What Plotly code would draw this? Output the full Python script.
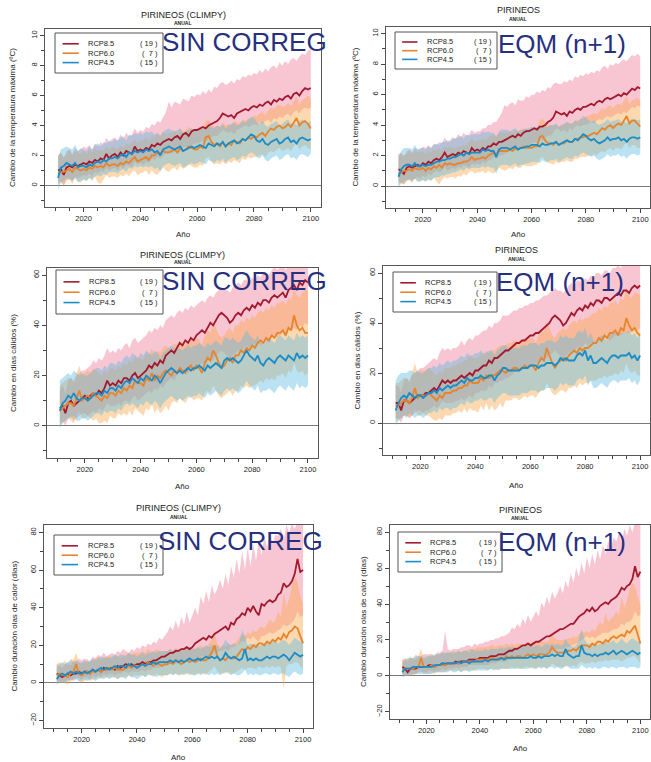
import plotly.graph_objects as go

YEARS = list(range(2011, 2101))

# ---------------- Temperatura máxima, SIN CORREG ----------------
T_SC_85 = [1.0, 1.1, 0.7, 1.2, 1.3, 1.2, 1.4, 1.3, 1.4, 1.5,
           1.4, 1.6, 1.5, 1.7, 1.6, 1.8, 1.7, 2.1, 1.8, 2.0,
           2.1, 1.9, 2.2, 2.0, 2.3, 2.2, 2.1, 2.6, 2.3, 2.4,
           2.3, 2.5, 2.4, 2.7, 2.6, 2.8, 2.7, 2.9, 3.0, 3.1,
           3.0, 3.2, 3.3, 3.1, 3.4, 3.5, 3.3, 3.6, 3.7, 3.7,
           3.8, 3.9, 3.8, 4.0, 4.1, 4.2, 4.3, 4.5, 4.8, 4.7,
           4.6, 4.7, 4.5, 4.8, 4.9, 5.0, 5.1, 5.0, 5.2, 5.3,
           5.2, 5.4, 5.3, 5.5, 5.6, 5.4, 5.7, 5.6, 5.8, 5.7,
           5.9, 6.0, 5.8, 6.1, 6.2, 6.0, 6.3, 6.5, 6.4, 6.5]
T_SC_85_HI = [2.0, 2.2, 1.8, 2.3, 2.4, 2.1, 2.5, 2.3, 2.4, 2.6,
              2.5, 2.7, 2.4, 2.8, 2.6, 2.9, 2.7, 3.2, 2.9, 3.1,
              3.2, 3.0, 3.4, 3.1, 3.5, 3.3, 3.4, 3.8, 3.5, 3.7,
              3.6, 3.9, 3.8, 4.1, 4.0, 4.3, 4.2, 4.6, 4.9, 5.6,
              5.2, 5.6, 5.5, 5.4, 5.8, 5.7, 5.6, 6.0, 5.9, 6.1,
              6.0, 6.3, 6.1, 6.4, 6.2, 6.6, 6.5, 6.8, 6.9, 6.7,
              6.8, 7.0, 6.8, 7.1, 7.0, 7.3, 7.2, 7.4, 7.3, 7.5,
              7.4, 7.7, 7.5, 7.8, 7.6, 7.9, 8.0, 7.8, 8.2, 8.0,
              8.3, 8.1, 8.4, 8.5, 8.3, 8.6, 8.8, 8.7, 9.0, 9.1]
T_SC_85_LO = [0.2, 0.3, 0.0, 0.4, 0.5, 0.3, 0.6, 0.5, 0.6, 0.7,
              0.6, 0.8, 0.6, 0.9, 0.8, 1.0, 0.9, 1.2, 1.0, 1.1,
              1.2, 1.0, 1.3, 1.1, 1.4, 1.3, 1.2, 1.6, 1.4, 1.5,
              1.4, 1.6, 1.5, 1.8, 1.7, 1.9, 1.8, 2.0, 2.1, 2.2,
              2.1, 2.3, 2.4, 2.2, 2.5, 2.6, 2.4, 2.7, 2.8, 2.8,
              2.9, 3.0, 2.9, 3.1, 3.2, 3.3, 3.3, 3.5, 3.7, 3.6,
              3.5, 3.6, 3.4, 3.7, 3.8, 3.9, 4.0, 3.9, 4.0, 4.1,
              4.0, 4.2, 4.1, 4.3, 4.4, 4.2, 4.5, 4.4, 4.6, 4.5,
              4.7, 4.8, 4.6, 4.9, 5.0, 4.8, 5.1, 5.2, 5.1, 5.2]
T_SC_60 = [0.8, 0.9, 0.9, 1.0, 1.1, 0.9, 1.2, 1.1, 1.0, 1.1,
           1.0, 1.2, 1.1, 1.3, 1.2, 1.3, 1.2, 1.5, 1.3, 1.4,
           1.4, 1.3, 1.5, 1.4, 1.6, 1.5, 1.7, 1.9, 1.6, 1.7,
           1.8, 1.9, 1.7, 2.0, 2.0, 2.2, 2.1, 2.3, 2.2, 2.2,
           2.3, 2.4, 2.2, 2.5, 2.3, 2.4, 2.6, 2.5, 2.4, 2.4,
           2.6, 2.5, 3.2, 3.3, 2.9, 2.7, 2.8, 2.6, 2.9, 2.6,
           2.8, 2.7, 3.0, 2.9, 2.8, 3.1, 3.0, 3.2, 3.1, 3.3,
           3.2, 3.4, 3.5, 3.3, 3.6, 3.8, 3.7, 3.9, 4.0, 3.8,
           3.9, 4.1, 3.9, 4.2, 4.5, 4.0, 4.2, 4.3, 4.1, 3.8]
T_SC_60_HI = [2.0, 2.2, 1.9, 2.1, 2.4, 2.0, 2.3, 2.2, 2.1, 2.3,
              2.1, 2.4, 2.2, 2.5, 2.3, 2.4, 2.3, 2.6, 2.4, 2.6,
              2.5, 2.4, 2.7, 2.5, 2.8, 2.7, 2.9, 3.1, 2.8, 3.0,
              3.0, 3.2, 2.9, 3.3, 3.2, 3.5, 3.3, 3.6, 3.4, 3.5,
              3.5, 3.7, 3.4, 3.8, 3.6, 3.7, 3.9, 3.8, 3.7, 3.8,
              3.9, 3.8, 4.3, 4.4, 4.1, 3.9, 4.0, 3.9, 4.2, 4.0,
              4.1, 4.0, 4.3, 4.2, 4.1, 4.4, 4.3, 4.5, 4.4, 4.7,
              4.6, 4.8, 4.9, 4.7, 5.0, 5.2, 5.1, 5.3, 5.4, 5.2,
              5.3, 5.5, 5.3, 5.6, 5.9, 5.4, 5.7, 5.8, 6.0, 5.8]
T_SC_60_LO = [0.1, 0.2, 0.0, 0.3, 0.4, 0.1, 0.5, 0.3, 0.2, 0.4,
              0.3, 0.5, 0.3, 0.6, 0.2, 0.1, 0.4, 0.7, 0.5, 0.6,
              0.6, 0.5, 0.7, 0.6, 0.8, 0.6, 0.9, 1.0, 0.7, 0.8,
              0.9, 1.0, 0.7, 1.0, 0.8, 0.7, 1.0, 1.2, 1.0, 0.9,
              1.1, 1.2, 1.0, 1.3, 1.1, 1.2, 1.4, 1.3, 1.2, 1.2,
              1.4, 1.3, 1.8, 1.9, 1.6, 1.4, 1.5, 1.4, 1.6, 1.4,
              1.6, 1.5, 1.7, 1.6, 1.5, 1.8, 1.7, 1.9, 1.8, 1.9,
              1.9, 2.0, 2.1, 1.9, 2.2, 2.3, 2.2, 2.4, 2.5, 2.3,
              2.4, 2.5, 2.3, 2.6, 2.8, 2.4, 2.6, 2.7, 2.5, 2.4]
T_SC_45 = [0.5, 1.2, 1.3, 1.5, 1.4, 1.3, 1.5, 1.2, 1.3, 1.3,
           1.2, 1.4, 1.3, 1.5, 1.6, 1.5, 1.7, 1.6, 1.8, 1.8,
           1.9, 1.8, 2.0, 2.1, 1.9, 2.2, 2.1, 2.3, 2.2, 2.3,
           2.2, 2.4, 2.3, 2.4, 2.2, 2.3, 2.0, 2.4, 2.5, 2.6,
           2.5, 2.4, 2.5, 2.6, 2.3, 2.4, 2.5, 2.6, 2.5, 2.6,
           2.7, 2.6, 2.5, 2.8, 2.7, 2.6, 2.8, 2.7, 2.9, 2.6,
           2.8, 2.9, 3.0, 2.8, 2.9, 3.1, 3.0, 3.2, 3.4, 3.3,
           3.0, 2.9, 3.1, 2.8, 2.7, 2.9, 3.0, 3.1, 2.8, 2.9,
           3.1, 3.2, 2.9, 3.0, 2.8, 3.1, 3.2, 3.1, 3.0, 3.1]
T_SC_45_HI = [1.8, 2.4, 2.5, 2.6, 2.5, 2.4, 2.7, 2.3, 2.5, 2.4,
              2.3, 2.6, 2.4, 2.7, 2.8, 2.6, 2.9, 2.8, 3.0, 2.9,
              3.1, 3.0, 3.2, 3.3, 3.0, 3.4, 3.3, 3.5, 3.4, 3.5,
              3.4, 3.6, 3.5, 3.6, 3.4, 3.5, 3.3, 3.6, 3.7, 3.8,
              3.7, 3.6, 3.7, 3.8, 3.5, 3.6, 3.7, 3.8, 3.7, 3.8,
              3.9, 3.8, 3.7, 4.0, 3.9, 3.8, 4.0, 3.9, 4.1, 3.8,
              4.0, 4.1, 4.2, 4.0, 4.1, 4.3, 4.2, 4.4, 4.6, 4.5,
              4.2, 4.1, 4.3, 4.0, 3.9, 4.1, 4.2, 4.3, 4.0, 4.1,
              4.3, 4.4, 4.1, 4.2, 4.0, 4.3, 4.4, 4.3, 4.2, 4.3]
T_SC_45_LO = [-0.3, 0.2, 0.3, 0.5, 0.4, 0.3, 0.5, 0.2, 0.3, 0.4,
              0.3, 0.5, 0.4, 0.6, 0.7, 0.6, 0.8, 0.7, 0.9, 0.9,
              0.9, 0.8, 1.0, 1.1, 0.9, 1.2, 1.1, 1.3, 1.2, 1.3,
              1.2, 1.3, 1.2, 1.3, 1.1, 1.2, 0.9, 1.3, 1.4, 1.5,
              1.4, 1.3, 1.4, 1.5, 1.2, 1.3, 1.4, 1.5, 1.4, 1.5,
              1.6, 1.5, 1.4, 1.7, 1.6, 1.5, 1.7, 1.6, 1.8, 1.5,
              1.7, 1.8, 1.9, 1.7, 1.8, 2.0, 1.9, 2.1, 2.2, 2.1,
              1.9, 1.8, 2.0, 1.7, 1.6, 1.8, 1.9, 2.0, 1.7, 1.8,
              2.0, 2.1, 1.8, 1.9, 1.7, 2.0, 2.1, 2.0, 1.9, 2.1]

# ---------------- Temperatura máxima, EQM (n+1) ----------------
T_EQ_85 = [1.1, 1.0, 0.8, 1.2, 1.3, 1.2, 1.3, 1.4, 1.3, 1.5,
           1.4, 1.6, 1.5, 1.7, 1.8, 1.7, 1.9, 2.2, 1.9, 2.0,
           2.1, 2.0, 2.2, 2.1, 2.3, 2.2, 2.1, 2.5, 2.3, 2.4,
           2.3, 2.5, 2.4, 2.6, 2.6, 2.8, 2.7, 2.9, 2.9, 3.0,
           3.1, 3.2, 3.3, 3.2, 3.4, 3.3, 3.5, 3.6, 3.6, 3.7,
           3.8, 3.7, 3.9, 3.9, 4.0, 4.2, 4.3, 4.5, 4.9, 4.8,
           4.7, 4.8, 4.6, 4.9, 4.8, 5.0, 5.1, 5.0, 5.2, 5.2,
           5.3, 5.4, 5.3, 5.5, 5.6, 5.5, 5.7, 5.8, 5.7, 5.8,
           5.9, 6.0, 5.9, 6.1, 6.0, 6.2, 6.4, 6.3, 6.5, 6.4]
T_EQ_85_HI = [2.1, 2.2, 1.9, 2.3, 2.4, 2.2, 2.5, 2.4, 2.4, 2.6,
              2.5, 2.7, 2.5, 2.8, 2.7, 2.9, 2.8, 3.2, 2.9, 3.0,
              3.2, 3.1, 3.4, 3.2, 3.5, 3.3, 3.4, 3.7, 3.5, 3.6,
              3.6, 3.8, 3.8, 4.0, 4.0, 4.2, 4.2, 4.5, 4.8, 5.3,
              5.2, 5.4, 5.5, 5.3, 5.7, 5.6, 5.6, 5.9, 5.8, 6.0,
              6.0, 6.2, 6.1, 6.3, 6.2, 6.5, 6.4, 6.7, 6.8, 6.7,
              6.7, 6.9, 6.8, 7.0, 6.9, 7.2, 7.1, 7.3, 7.2, 7.4,
              7.3, 7.5, 7.4, 7.6, 7.5, 7.8, 7.9, 7.7, 8.0, 7.9,
              8.1, 8.0, 8.2, 8.3, 8.2, 8.4, 8.6, 8.5, 8.7, 8.5]
T_EQ_85_LO = [0.3, 0.2, 0.1, 0.4, 0.5, 0.4, 0.5, 0.6, 0.5, 0.7,
              0.6, 0.8, 0.7, 0.9, 1.0, 0.9, 1.0, 1.3, 1.0, 1.1,
              1.2, 1.1, 1.3, 1.2, 1.4, 1.3, 1.2, 1.5, 1.4, 1.5,
              1.4, 1.6, 1.5, 1.7, 1.7, 1.9, 1.8, 2.0, 2.0, 2.1,
              2.2, 2.3, 2.4, 2.3, 2.5, 2.4, 2.6, 2.7, 2.7, 2.8,
              2.9, 2.8, 3.0, 3.0, 3.1, 3.3, 3.3, 3.5, 3.8, 3.7,
              3.6, 3.7, 3.5, 3.8, 3.7, 3.9, 4.0, 3.9, 4.0, 4.0,
              4.1, 4.2, 4.1, 4.3, 4.4, 4.3, 4.5, 4.6, 4.5, 4.6,
              4.7, 4.8, 4.7, 4.9, 4.8, 5.0, 5.2, 5.1, 5.3, 5.2]
T_EQ_60 = [0.8, 0.9, 1.0, 1.0, 1.1, 1.0, 1.2, 1.1, 1.1, 1.2,
           1.0, 1.2, 1.1, 1.3, 1.2, 1.4, 1.2, 1.5, 1.4, 1.5,
           1.4, 1.4, 1.5, 1.5, 1.6, 1.6, 1.7, 1.9, 1.7, 1.8,
           1.8, 1.9, 1.8, 2.0, 2.1, 2.2, 2.1, 2.3, 2.3, 2.3,
           2.3, 2.4, 2.3, 2.5, 2.4, 2.5, 2.6, 2.5, 2.5, 2.5,
           2.6, 2.6, 3.2, 3.3, 3.0, 2.8, 2.8, 2.7, 2.9, 2.7,
           2.8, 2.8, 3.0, 2.9, 2.9, 3.1, 3.1, 3.2, 3.2, 3.3,
           3.3, 3.4, 3.5, 3.4, 3.6, 3.8, 3.7, 3.9, 4.0, 3.8,
           4.0, 4.1, 4.0, 4.3, 4.6, 4.1, 4.3, 4.3, 4.1, 3.9]
T_EQ_60_HI = [2.0, 2.1, 2.0, 2.1, 2.3, 2.1, 2.3, 2.2, 2.2, 2.3,
              2.1, 2.3, 2.2, 2.4, 2.3, 2.5, 2.3, 2.6, 2.5, 2.6,
              2.5, 2.5, 2.6, 2.6, 2.7, 2.7, 2.9, 3.1, 2.9, 3.0,
              3.0, 3.1, 3.0, 3.2, 3.3, 3.4, 3.3, 3.5, 3.5, 3.5,
              3.5, 3.6, 3.5, 3.7, 3.6, 3.7, 3.8, 3.7, 3.7, 3.7,
              3.8, 3.8, 4.3, 4.4, 4.2, 4.0, 4.0, 3.9, 4.1, 3.9,
              4.0, 4.0, 4.2, 4.1, 4.1, 4.3, 4.3, 4.4, 4.4, 4.6,
              4.6, 4.7, 4.8, 4.7, 4.9, 5.1, 5.0, 5.2, 5.3, 5.1,
              5.3, 5.4, 5.3, 5.6, 5.9, 5.4, 5.6, 5.7, 5.8, 5.6]
T_EQ_60_LO = [0.1, 0.2, 0.1, 0.3, 0.4, 0.2, 0.5, 0.3, 0.3, 0.4,
              0.3, 0.5, 0.3, 0.6, 0.3, 0.1, 0.4, 0.6, 0.5, 0.6,
              0.6, 0.5, 0.7, 0.6, 0.8, 0.7, 0.9, 1.0, 0.8, 0.9,
              0.9, 1.0, 0.8, 1.0, 0.9, 0.8, 1.0, 1.2, 1.1, 1.0,
              1.1, 1.2, 1.1, 1.3, 1.2, 1.2, 1.4, 1.3, 1.3, 1.3,
              1.4, 1.4, 1.8, 1.9, 1.7, 1.5, 1.5, 1.4, 1.6, 1.5,
              1.6, 1.6, 1.7, 1.6, 1.6, 1.8, 1.8, 1.9, 1.9, 1.9,
              2.0, 2.0, 2.1, 2.0, 2.2, 2.3, 2.2, 2.4, 2.5, 2.3,
              2.5, 2.5, 2.4, 2.7, 2.9, 2.5, 2.7, 2.7, 2.5, 2.5]
T_EQ_45 = [0.6, 1.1, 1.3, 1.4, 1.4, 1.3, 1.5, 1.3, 1.3, 1.4,
           1.3, 1.4, 1.4, 1.5, 1.6, 1.6, 1.7, 1.7, 1.8, 1.8,
           1.9, 1.9, 2.0, 2.1, 2.0, 2.2, 2.1, 2.2, 2.2, 2.2,
           2.2, 2.4, 2.3, 2.4, 2.3, 2.3, 1.9, 2.4, 2.5, 2.5,
           2.5, 2.4, 2.5, 2.6, 2.4, 2.5, 2.5, 2.6, 2.6, 2.7,
           2.7, 2.7, 2.6, 2.8, 2.7, 2.7, 2.8, 2.8, 2.9, 2.7,
           2.8, 2.9, 3.0, 2.9, 2.9, 3.1, 3.0, 3.2, 3.4, 3.3,
           3.1, 3.0, 3.1, 2.9, 2.8, 2.9, 3.0, 3.2, 3.0, 3.1,
           3.1, 3.2, 3.0, 3.1, 2.9, 3.1, 3.2, 3.2, 3.1, 3.2]
T_EQ_45_HI = [1.9, 2.3, 2.5, 2.5, 2.5, 2.4, 2.7, 2.4, 2.5, 2.5,
              2.4, 2.6, 2.5, 2.7, 2.8, 2.7, 2.9, 2.9, 3.0, 2.9,
              3.1, 3.1, 3.2, 3.3, 3.1, 3.4, 3.3, 3.4, 3.4, 3.4,
              3.4, 3.6, 3.5, 3.6, 3.5, 3.5, 3.2, 3.6, 3.7, 3.7,
              3.7, 3.6, 3.7, 3.8, 3.6, 3.7, 3.7, 3.8, 3.8, 3.9,
              3.9, 3.9, 3.8, 4.0, 3.9, 3.9, 4.0, 4.0, 4.1, 3.9,
              4.0, 4.1, 4.2, 4.1, 4.1, 4.3, 4.2, 4.4, 4.6, 4.5,
              4.3, 4.2, 4.3, 4.1, 4.0, 4.1, 4.2, 4.4, 4.2, 4.3,
              4.3, 4.4, 4.2, 4.3, 4.1, 4.3, 4.4, 4.4, 4.3, 4.4]
T_EQ_45_LO = [-0.2, 0.2, 0.3, 0.4, 0.4, 0.3, 0.5, 0.3, 0.3, 0.4,
              0.3, 0.4, 0.4, 0.5, 0.6, 0.6, 0.7, 0.7, 0.8, 0.8,
              0.9, 0.9, 1.0, 1.1, 1.0, 1.2, 1.1, 1.2, 1.2, 1.2,
              1.2, 1.3, 1.2, 1.3, 1.2, 1.2, 0.8, 1.3, 1.4, 1.4,
              1.4, 1.3, 1.4, 1.5, 1.3, 1.4, 1.4, 1.5, 1.5, 1.6,
              1.6, 1.6, 1.5, 1.7, 1.6, 1.6, 1.7, 1.7, 1.8, 1.6,
              1.7, 1.8, 1.9, 1.8, 1.8, 2.0, 1.9, 2.1, 2.2, 2.1,
              2.0, 1.9, 2.0, 1.8, 1.7, 1.8, 1.9, 2.1, 1.9, 2.0,
              2.0, 2.1, 1.9, 2.0, 1.8, 2.0, 2.1, 2.1, 2.0, 2.1]

# ---------------- Días cálidos, SIN CORREG ----------------
D_SC_85 = [7, 8, 5, 9, 10, 8, 9, 10, 11, 12,
           11, 12, 13, 12, 14, 13, 15, 18, 16, 17,
           16, 18, 17, 19, 19, 18, 20, 21, 19, 20,
           21, 22, 24, 23, 25, 24, 26, 25, 28, 29,
           30, 29, 31, 33, 32, 34, 33, 35, 34, 36,
           37, 38, 37, 39, 41, 40, 42, 44, 45, 44,
           43, 41, 42, 44, 45, 44, 46, 47, 46, 48,
           47, 49, 48, 50, 50, 49, 51, 52, 51, 52,
           53, 51, 54, 55, 56, 54, 57, 56, 58, 57]
D_SC_85_HI = [14, 16, 13, 18, 19, 17, 20, 21, 22, 22,
              23, 24, 26, 25, 27, 26, 28, 31, 29, 30,
              29, 31, 30, 32, 33, 31, 34, 35, 33, 34,
              35, 36, 38, 37, 39, 38, 40, 39, 42, 43,
              44, 43, 45, 46, 45, 47, 46, 48, 47, 48,
              49, 50, 49, 51, 52, 51, 53, 54, 55, 54,
              54, 53, 55, 56, 57, 56, 58, 58, 57, 59,
              58, 60, 59, 61, 61, 60, 62, 63, 62, 63,
              64, 62, 64, 65, 66, 65, 67, 66, 68, 67]
D_SC_85_LO = [1, 2, 0, 3, 4, 2, 3, 4, 5, 5,
              4, 5, 6, 5, 7, 6, 7, 9, 8, 8,
              8, 9, 8, 10, 10, 9, 11, 12, 10, 11,
              12, 13, 14, 13, 15, 14, 16, 15, 17, 18,
              19, 18, 20, 21, 20, 22, 21, 23, 22, 24,
              24, 25, 24, 26, 27, 26, 28, 29, 30, 29,
              28, 27, 28, 29, 30, 29, 31, 32, 31, 33,
              32, 33, 32, 34, 34, 33, 35, 36, 35, 36,
              37, 35, 38, 38, 39, 38, 40, 39, 41, 40]
D_SC_60 = [6, 7, 8, 9, 9, 8, 11, 14, 10, 11,
           12, 11, 13, 12, 11, 10, 12, 11, 13, 13,
           12, 14, 13, 15, 14, 16, 15, 18, 17, 17,
           16, 19, 18, 21, 18, 20, 19, 21, 22, 21,
           20, 22, 21, 23, 22, 21, 23, 24, 22, 24,
           23, 21, 25, 27, 26, 30, 28, 25, 23, 24,
           26, 27, 25, 28, 28, 30, 29, 31, 30, 32,
           31, 33, 34, 33, 35, 34, 36, 35, 37, 37,
           38, 36, 39, 38, 44, 40, 38, 39, 37, 37]
D_SC_60_HI = [16, 17, 18, 19, 19, 18, 21, 24, 20, 21,
              22, 21, 23, 22, 21, 20, 22, 21, 23, 23,
              22, 24, 23, 25, 24, 26, 25, 28, 27, 27,
              26, 29, 28, 31, 28, 30, 29, 31, 32, 31,
              31, 33, 32, 34, 33, 32, 34, 35, 33, 35,
              34, 32, 36, 38, 37, 41, 39, 36, 35, 36,
              38, 39, 37, 40, 40, 42, 41, 43, 42, 44,
              43, 45, 46, 45, 47, 46, 48, 47, 49, 49,
              50, 48, 51, 50, 55, 52, 51, 53, 54, 54]
D_SC_60_LO = [0, 1, 2, 3, 2, 1, 4, 6, 3, 3,
              4, 3, 2, 3, 1, 1, 2, 1, 4, 3,
              3, 5, 4, 5, 4, 6, 4, 7, 6, 5,
              4, 7, 6, 9, 5, 7, 5, 6, 8, 6,
              9, 10, 9, 11, 10, 9, 11, 12, 10, 11,
              11, 10, 13, 14, 13, 16, 14, 12, 11, 12,
              13, 14, 12, 14, 14, 16, 15, 16, 15, 16,
              16, 17, 18, 17, 19, 18, 19, 18, 20, 20,
              21, 19, 22, 21, 25, 22, 21, 22, 20, 21]
D_SC_45 = [6, 9, 10, 12, 11, 13, 11, 10, 11, 11,
           10, 11, 12, 13, 13, 12, 14, 13, 15, 15,
           14, 16, 15, 17, 18, 17, 19, 18, 17, 19,
           18, 20, 19, 18, 20, 19, 17, 19, 21, 22,
           23, 22, 21, 22, 21, 22, 23, 22, 23, 23,
           24, 23, 22, 24, 23, 24, 25, 24, 23, 26,
           27, 26, 27, 26, 25, 26, 28, 30, 28, 27,
           26, 28, 25, 24, 26, 27, 26, 25, 27, 28,
           27, 26, 28, 27, 26, 29, 27, 28, 27, 28]
D_SC_45_HI = [18, 19, 20, 21, 20, 22, 21, 20, 21, 20,
              20, 21, 22, 23, 23, 22, 24, 23, 25, 25,
              24, 26, 25, 27, 28, 27, 29, 28, 27, 29,
              28, 30, 29, 28, 30, 29, 27, 29, 30, 31,
              32, 31, 30, 31, 30, 31, 32, 31, 32, 32,
              33, 32, 31, 33, 32, 33, 34, 33, 32, 35,
              35, 34, 35, 34, 33, 34, 36, 38, 36, 35,
              34, 36, 33, 33, 34, 35, 34, 33, 35, 36,
              35, 34, 36, 35, 34, 37, 35, 36, 35, 36]
D_SC_45_LO = [-1, 1, 2, 3, 3, 4, 2, 2, 3, 3,
              2, 3, 4, 5, 5, 4, 6, 5, 6, 6,
              5, 7, 6, 8, 9, 8, 9, 8, 7, 9,
              8, 10, 9, 8, 10, 9, 7, 9, 10, 11,
              12, 11, 10, 11, 10, 11, 12, 11, 12, 12,
              13, 12, 11, 13, 12, 13, 14, 13, 12, 14,
              15, 14, 15, 14, 13, 14, 16, 18, 16, 15,
              14, 16, 13, 14, 14, 15, 14, 13, 15, 16,
              15, 14, 16, 15, 14, 17, 15, 16, 15, 16]

# ---------------- Días cálidos, EQM (n+1) ----------------
D_EQ_85 = [8, 8, 5, 9, 9, 8, 9, 10, 11, 11,
           11, 12, 12, 13, 14, 13, 15, 17, 16, 17,
           16, 17, 17, 18, 19, 18, 19, 20, 19, 21,
           21, 22, 23, 23, 25, 24, 26, 26, 27, 28,
           29, 29, 30, 31, 32, 32, 33, 33, 34, 35,
           35, 36, 36, 37, 38, 39, 40, 42, 43, 42,
           41, 39, 40, 42, 44, 43, 45, 46, 45, 47,
           46, 48, 47, 49, 49, 48, 50, 50, 49, 50,
           51, 52, 51, 53, 53, 52, 54, 55, 54, 55]
D_EQ_85_HI = [15, 15, 12, 17, 18, 16, 19, 20, 21, 22,
              22, 23, 24, 25, 26, 25, 28, 30, 29, 30,
              29, 30, 30, 31, 33, 31, 33, 34, 33, 35,
              35, 36, 37, 37, 39, 38, 40, 40, 41, 43,
              43, 43, 44, 45, 45, 46, 46, 47, 47, 48,
              48, 49, 49, 50, 51, 51, 52, 53, 54, 53,
              53, 52, 53, 55, 56, 55, 57, 57, 56, 58,
              57, 59, 58, 60, 60, 59, 61, 61, 60, 62,
              62, 63, 62, 64, 64, 63, 65, 66, 65, 66]
D_EQ_85_LO = [2, 2, 0, 3, 3, 2, 3, 4, 5, 5,
              4, 5, 5, 6, 7, 6, 7, 9, 8, 8,
              8, 8, 9, 9, 10, 9, 10, 11, 10, 12,
              12, 13, 13, 13, 15, 14, 16, 16, 17, 17,
              18, 18, 19, 20, 21, 21, 21, 22, 22, 23,
              23, 24, 24, 25, 26, 26, 27, 28, 29, 28,
              27, 26, 27, 28, 29, 29, 30, 31, 30, 32,
              31, 32, 32, 33, 33, 32, 34, 34, 33, 34,
              35, 36, 35, 36, 36, 36, 37, 38, 37, 38]
D_EQ_60 = [7, 7, 8, 9, 9, 8, 10, 14, 10, 11,
           11, 11, 12, 11, 10, 9, 11, 10, 12, 12,
           12, 13, 13, 14, 14, 15, 15, 17, 16, 16,
           16, 18, 17, 19, 18, 19, 19, 20, 21, 21,
           20, 21, 21, 22, 22, 21, 22, 23, 22, 23,
           23, 21, 24, 26, 25, 30, 27, 24, 22, 24,
           25, 26, 25, 27, 28, 29, 28, 30, 29, 30,
           30, 31, 32, 32, 34, 33, 35, 34, 36, 36,
           37, 35, 38, 37, 42, 39, 37, 38, 36, 35]
D_EQ_60_HI = [16, 16, 17, 18, 18, 17, 20, 24, 20, 21,
              21, 21, 22, 21, 20, 19, 21, 20, 22, 22,
              22, 23, 23, 24, 24, 25, 25, 27, 26, 26,
              26, 28, 27, 29, 28, 29, 29, 30, 31, 31,
              31, 32, 32, 33, 33, 32, 33, 34, 33, 34,
              34, 32, 35, 37, 36, 41, 38, 35, 34, 36,
              37, 38, 37, 39, 40, 41, 40, 42, 41, 42,
              42, 43, 44, 44, 46, 45, 47, 46, 48, 48,
              49, 47, 50, 49, 54, 51, 50, 52, 52, 51]
D_EQ_60_LO = [1, 1, 2, 3, 3, 2, 3, 6, 3, 3,
              4, 3, 3, 2, 1, 1, 2, 1, 3, 3,
              3, 4, 4, 5, 4, 6, 4, 6, 5, 5,
              4, 7, 5, 8, 5, 7, 5, 6, 8, 6,
              9, 9, 9, 10, 10, 9, 10, 11, 10, 11,
              11, 10, 12, 13, 13, 16, 14, 12, 11, 12,
              13, 13, 12, 14, 14, 15, 14, 16, 15, 16,
              16, 17, 17, 17, 18, 18, 19, 18, 19, 19,
              20, 19, 21, 20, 24, 21, 20, 21, 19, 19]
D_EQ_45 = [5, 8, 10, 11, 10, 12, 11, 10, 11, 11,
           10, 11, 12, 12, 13, 12, 14, 13, 14, 15,
           14, 15, 15, 16, 17, 16, 18, 17, 17, 18,
           18, 19, 18, 18, 19, 19, 17, 19, 20, 22,
           22, 21, 21, 21, 21, 21, 22, 22, 22, 23,
           23, 23, 22, 23, 23, 24, 24, 24, 23, 24,
           26, 25, 26, 25, 25, 25, 27, 28, 27, 29,
           25, 27, 24, 24, 25, 26, 25, 24, 26, 27,
           27, 26, 27, 27, 27, 28, 26, 27, 25, 27]
D_EQ_45_HI = [17, 19, 20, 20, 20, 21, 21, 20, 21, 20,
              20, 21, 22, 22, 23, 22, 24, 23, 24, 25,
              24, 25, 25, 26, 27, 26, 28, 27, 27, 28,
              28, 29, 28, 28, 29, 29, 27, 29, 30, 31,
              31, 30, 30, 30, 30, 30, 31, 31, 31, 32,
              32, 32, 31, 32, 32, 33, 33, 33, 32, 33,
              35, 34, 35, 34, 34, 34, 36, 37, 36, 38,
              34, 36, 33, 33, 34, 35, 34, 33, 35, 36,
              36, 35, 36, 36, 36, 37, 35, 36, 34, 36]
D_EQ_45_LO = [-1, 1, 2, 3, 2, 4, 3, 2, 3, 3,
              2, 3, 4, 4, 5, 4, 6, 5, 6, 6,
              5, 6, 6, 7, 8, 7, 9, 8, 8, 9,
              9, 10, 9, 9, 10, 10, 8, 10, 11, 12,
              12, 11, 11, 11, 11, 11, 12, 12, 12, 13,
              13, 13, 12, 13, 13, 14, 14, 14, 13, 14,
              16, 15, 16, 15, 15, 15, 17, 18, 17, 19,
              15, 17, 14, 14, 15, 16, 15, 14, 16, 17,
              17, 16, 17, 17, 17, 18, 16, 17, 15, 17]

# ---------------- Olas de calor, SIN CORREG ----------------
H_SC_85 = [5, 4, 3, 4, 5, 4, 5, 5, 6, 5,
           6, 6, 5, 7, 6, 7, 6, 8, 7, 8,
           8, 7, 9, 8, 9, 10, 9, 10, 9, 10,
           10, 11, 10, 11, 11, 12, 12, 13, 14, 14,
           15, 16, 16, 17, 17, 18, 18, 19, 18, 19,
           21, 22, 23, 24, 23, 25, 24, 26, 27, 28,
           29, 30, 28, 32, 31, 34, 35, 37, 36, 40,
           38, 41, 38, 36, 42, 41, 43, 44, 43, 44,
           47, 48, 53, 51, 52, 54, 58, 66, 59, 60]
H_SC_85_HI = [10, 9, 8, 10, 11, 9, 12, 11, 13, 12,
              13, 12, 11, 14, 13, 15, 14, 16, 14, 15,
              16, 15, 17, 16, 18, 17, 16, 18, 17, 19,
              18, 20, 19, 21, 20, 22, 21, 24, 23, 25,
              27, 30, 28, 33, 29, 35, 31, 38, 32, 36,
              40, 36, 46, 42, 49, 43, 52, 47, 50, 55,
              50, 58, 52, 62, 56, 66, 58, 70, 60, 72,
              62, 74, 65, 76, 68, 78, 72, 80, 74, 79,
              78, 82, 76, 84, 80, 85, 82, 86, 85, 86]
H_SC_85_LO = [1, 0, 0, 1, 2, 1, 2, 2, 3, 2,
              3, 3, 2, 4, 3, 4, 3, 5, 4, 5,
              5, 4, 5, 5, 6, 6, 5, 6, 6, 6,
              6, 7, 6, 7, 7, 8, 8, 8, 9, 9,
              9, 10, 10, 10, 11, 11, 11, 12, 11, 12,
              13, 13, 14, 14, 14, 15, 15, 16, 16, 17,
              17, 18, 17, 19, 19, 20, 21, 22, 22, 24,
              23, 25, 23, 22, 25, 25, 26, 27, 26, 27,
              28, 29, 31, 30, 31, 32, 34, 38, 35, 36]
H_SC_60 = [4, 5, 4, 4, 3, 5, 6, 10, 5, 4,
           5, 6, 5, 6, 6, 7, 6, 7, 7, 8,
           7, 8, 7, 7, 7, 8, 9, 8, 9, 9,
           9, 10, 9, 11, 10, 9, 11, 10, 9, 10,
           10, 11, 10, 12, 11, 10, 11, 12, 11, 12,
           11, 12, 13, 12, 12, 14, 16, 20, 14, 12,
           13, 12, 14, 13, 13, 14, 16, 18, 17, 19,
           18, 20, 19, 21, 21, 20, 22, 21, 23, 22,
           24, 23, 26, 24, 27, 28, 30, 29, 25, 21]
H_SC_60_HI = [10, 11, 10, 12, 9, 13, 12, 16, 11, 10,
              11, 13, 11, 12, 13, 14, 12, 14, 13, 15,
              13, 15, 14, 13, 14, 15, 16, 15, 16, 16,
              16, 17, 16, 18, 17, 16, 18, 17, 16, 17,
              17, 18, 17, 19, 18, 17, 18, 19, 18, 19,
              18, 19, 20, 19, 19, 21, 23, 27, 21, 19,
              20, 19, 21, 20, 21, 22, 24, 26, 25, 27,
              26, 28, 27, 29, 30, 29, 31, 34, 32, 33,
              38, 35, 48, 40, 45, 52, 56, 54, 46, 42]
H_SC_60_LO = [0, 1, 0, 0, -1, 1, 2, 4, 1, 0,
              1, 2, 1, 2, 2, 3, 2, 3, 3, 3,
              3, 3, 2, 3, 3, 3, 4, 3, 4, 4,
              4, 4, 3, 5, 4, 3, 5, 4, 3, 4,
              4, 5, 4, 5, 4, 4, 5, 5, 4, 5,
              4, 5, 5, 5, 4, 6, 7, 9, 6, 5,
              5, 5, 6, 5, 5, 6, 7, 8, 7, 8,
              8, 8, 7, 9, 8, 8, 9, 8, 9, 8,
              9, 8, -3, 9, 10, 10, 11, 11, 9, 7]
H_SC_45 = [2, 4, 5, 4, 5, 6, 5, 6, 5, 5,
           6, 5, 6, 7, 6, 7, 8, 7, 8, 7,
           8, 9, 8, 9, 9, 8, 10, 9, 9, 8,
           9, 10, 9, 10, 10, 11, 10, 11, 11, 11,
           11, 12, 11, 12, 11, 12, 11, 12, 13, 12,
           12, 13, 12, 13, 14, 13, 14, 13, 14, 12,
           13, 16, 14, 13, 14, 13, 12, 13, 18, 12,
           13, 12, 13, 12, 12, 13, 14, 13, 14, 14,
           13, 14, 15, 14, 12, 14, 16, 15, 14, 15]
H_SC_45_HI = [8, 10, 11, 10, 11, 12, 11, 12, 11, 11,
              12, 11, 12, 13, 12, 13, 14, 13, 14, 13,
              14, 15, 14, 15, 15, 14, 16, 15, 15, 14,
              15, 16, 15, 16, 16, 17, 16, 17, 17, 17,
              17, 18, 17, 18, 17, 18, 17, 18, 19, 18,
              18, 19, 18, 19, 20, 19, 20, 19, 20, 18,
              20, 23, 21, 20, 21, 20, 22, 28, 25, 20,
              21, 20, 21, 20, 20, 21, 22, 21, 22, 22,
              21, 22, 23, 22, 20, 22, 24, 23, 22, 23]
H_SC_45_LO = [-1, 0, 1, 0, 1, 2, 1, 2, 1, 1,
              2, 1, 2, 2, 1, 2, 3, 2, 3, 2,
              3, 3, 2, 3, 3, 2, 4, 3, 3, 2,
              3, 4, 3, 4, 4, 4, 3, 4, 4, 4,
              4, 5, 4, 5, 4, 5, 4, 5, 5, 4,
              4, 5, 4, 5, 5, 4, 5, 4, 5, 4,
              5, 6, 5, 4, 5, 4, 4, 5, 7, 4,
              5, 4, 5, 4, 4, 5, 5, 4, 5, 5,
              4, 5, 5, 4, 3, 5, 6, 5, 4, 5]

# ---------------- Olas de calor, EQM (n+1) ----------------
H_EQ_85 = [5, 4, 2, 4, 4, 4, 5, 5, 5, 5,
           6, 6, 5, 6, 6, 7, 6, 7, 7, 7,
           8, 7, 8, 8, 8, 9, 9, 9, 9, 10,
           10, 10, 10, 11, 11, 11, 12, 12, 12, 13,
           14, 14, 15, 15, 16, 17, 17, 18, 17, 18,
           19, 19, 20, 21, 22, 22, 23, 24, 25, 26,
           26, 27, 28, 29, 29, 31, 33, 34, 35, 37,
           36, 38, 36, 37, 39, 40, 41, 40, 42, 43,
           44, 46, 49, 48, 50, 51, 54, 61, 55, 58]
H_EQ_85_HI = [9, 9, 8, 10, 10, 9, 11, 11, 12, 12,
              12, 12, 11, 13, 13, 14, 25, 15, 14, 15,
              15, 15, 16, 16, 17, 17, 16, 18, 17, 18,
              18, 19, 19, 20, 20, 21, 21, 22, 22, 23,
              24, 27, 26, 29, 27, 32, 29, 34, 30, 33,
              36, 33, 41, 38, 44, 40, 47, 43, 46, 50,
              46, 53, 49, 57, 52, 60, 55, 63, 57, 66,
              60, 68, 62, 70, 65, 73, 68, 75, 71, 77,
              75, 80, 74, 82, 78, 84, 80, 86, 85, 86]
H_EQ_85_LO = [1, 0, 0, 1, 1, 1, 2, 2, 2, 2,
              3, 3, 2, 3, 3, 4, 3, 4, 4, 4,
              5, 4, 5, 5, 5, 6, 6, 6, 6, 6,
              6, 6, 6, 7, 7, 7, 8, 8, 8, 8,
              9, 9, 10, 10, 10, 11, 11, 11, 11, 11,
              12, 12, 12, 13, 13, 13, 14, 14, 15, 15,
              15, 16, 16, 17, 17, 18, 19, 20, 21, 22,
              21, 22, 21, 22, 23, 24, 24, 24, 25, 26,
              26, 27, 29, 28, 30, 30, 32, 36, 33, 34]
H_EQ_60 = [3, 4, 4, 4, 4, 5, 5, 10, 5, 5,
           5, 6, 5, 6, 6, 6, 6, 7, 7, 7,
           7, 7, 7, 8, 8, 8, 8, 8, 9, 9,
           9, 9, 9, 10, 10, 9, 10, 10, 10, 11,
           10, 11, 10, 11, 11, 10, 11, 12, 11, 12,
           11, 12, 12, 12, 12, 13, 16, 14, 13, 13,
           13, 13, 14, 14, 15, 14, 16, 17, 17, 17,
           16, 18, 17, 19, 19, 18, 20, 19, 21, 22,
           21, 22, 23, 22, 25, 24, 26, 28, 23, 18]
H_EQ_60_HI = [9, 10, 9, 11, 9, 12, 11, 15, 10, 10,
              11, 12, 11, 12, 12, 13, 12, 13, 13, 14,
              13, 14, 13, 14, 14, 15, 15, 15, 16, 16,
              16, 16, 16, 17, 17, 16, 17, 17, 17, 18,
              17, 18, 17, 18, 18, 17, 18, 19, 18, 19,
              18, 19, 19, 19, 19, 20, 23, 21, 20, 20,
              20, 20, 21, 21, 22, 21, 23, 25, 24, 25,
              24, 26, 25, 28, 30, 28, 35, 30, 32, 33,
              36, 34, 44, 38, 42, 48, 52, 50, 44, 40]
H_EQ_60_LO = [0, 1, 0, 1, 0, 1, 2, 4, 1, 1,
              1, 2, 1, 2, 2, 2, 2, 3, 3, 3,
              3, 3, 2, 3, 3, 3, 3, 3, 4, 4,
              4, 4, 3, 4, 4, 3, 4, 4, 4, 4,
              4, 5, 4, 5, 4, 4, 5, 5, 4, 5,
              4, 5, 5, 5, 4, 5, 7, 6, 5, 5,
              5, 5, 6, 5, 6, 5, 7, 8, 7, 7,
              7, 8, 7, 8, 8, 8, 9, 8, 9, 9,
              9, 9, 8, 9, 10, 10, 11, 11, 9, 7]
H_EQ_45 = [2, 4, 4, 4, 5, 5, 5, 5, 5, 5,
           5, 5, 6, 6, 6, 7, 7, 7, 7, 7,
           7, 8, 7, 8, 8, 7, 8, 8, 8, 8,
           8, 9, 8, 9, 9, 9, 9, 10, 9, 10,
           10, 10, 10, 10, 10, 10, 10, 10, 11, 10,
           10, 11, 10, 11, 11, 11, 12, 11, 12, 11,
           11, 15, 12, 11, 10, 11, 11, 17, 13, 12,
           12, 11, 12, 11, 12, 12, 13, 12, 13, 14,
           12, 13, 14, 13, 12, 13, 14, 13, 12, 13]
H_EQ_45_HI = [7, 9, 10, 10, 10, 11, 11, 11, 10, 11,
              11, 11, 12, 12, 12, 13, 13, 13, 13, 13,
              13, 14, 13, 14, 14, 13, 15, 14, 14, 14,
              14, 15, 14, 15, 15, 15, 15, 16, 15, 16,
              16, 16, 16, 16, 16, 17, 16, 17, 17, 16,
              17, 17, 16, 17, 18, 17, 18, 17, 18, 17,
              17, 21, 18, 17, 16, 17, 20, 26, 21, 18,
              18, 17, 18, 17, 18, 18, 19, 18, 19, 20,
              18, 19, 21, 19, 18, 20, 21, 20, 19, 20]
H_EQ_45_LO = [-1, 0, 0, 0, 1, 1, 1, 1, 1, 1,
              1, 1, 2, 2, 2, 2, 2, 2, 3, 2,
              2, 3, 2, 3, 3, 2, 3, 3, 3, 3,
              3, 3, 3, 4, 3, 4, 3, 4, 4, 4,
              4, 4, 4, 4, 4, 4, 4, 4, 5, 4,
              4, 5, 4, 5, 4, 5, 5, 4, 5, 4,
              4, 6, 5, 4, 4, 4, 4, 6, 5, 4,
              5, 4, 5, 4, 4, 5, 5, 4, 5, 5,
              4, 5, 5, 5, 4, 5, 5, 5, 4, 5]

SCENARIOS = ["RCP8.5", "RCP6.0", "RCP4.5"]
N_MODELS = ["( 19 )", "(\u00a0\u00a07 )", "( 15 )"]
TITLE_SC = "PIRINEOS (CLIMPY)"
TITLE_EQ = "PIRINEOS"
SUBTITLE = "ANUAL"
XLABEL = "Año"
YLABELS = ["Cambio de la temperatura máxima (ºC)",
           "Cambio en días cálidos (%)",
           "Cambio duración olas de calor (días)"]
OVERLAY_SC = "SIN CORREG"
OVERLAY_EQ = "EQM (n+1)"

series = {
    1: ([T_SC_85, T_SC_60, T_SC_45], [T_SC_85_LO, T_SC_60_LO, T_SC_45_LO], [T_SC_85_HI, T_SC_60_HI, T_SC_45_HI]),
    2: ([D_SC_85, D_SC_60, D_SC_45], [D_SC_85_LO, D_SC_60_LO, D_SC_45_LO], [D_SC_85_HI, D_SC_60_HI, D_SC_45_HI]),
    3: ([H_SC_85, H_SC_60, H_SC_45], [H_SC_85_LO, H_SC_60_LO, H_SC_45_LO], [H_SC_85_HI, H_SC_60_HI, H_SC_45_HI]),
    4: ([T_EQ_85, T_EQ_60, T_EQ_45], [T_EQ_85_LO, T_EQ_60_LO, T_EQ_45_LO], [T_EQ_85_HI, T_EQ_60_HI, T_EQ_45_HI]),
    5: ([D_EQ_85, D_EQ_60, D_EQ_45], [D_EQ_85_LO, D_EQ_60_LO, D_EQ_45_LO], [D_EQ_85_HI, D_EQ_60_HI, D_EQ_45_HI]),
    6: ([H_EQ_85, H_EQ_60, H_EQ_45], [H_EQ_85_LO, H_EQ_60_LO, H_EQ_45_LO], [H_EQ_85_HI, H_EQ_60_HI, H_EQ_45_HI]),
}
for k, (m, lo, hi) in series.items():
    for arr in m + lo + hi:
        assert len(arr) == len(YEARS), (k, len(arr))

# ---------------- styling / layout ----------------
W, H = 651, 762
LINE_COL = ["#a3192f", "#e8842c", "#1b8dc6"]
FILL_COL = ["rgba(238,120,150,0.42)", "rgba(250,165,70,0.42)", "rgba(90,185,225,0.42)"]
FONT = "Liberation Sans, Arial, sans-serif"
NAVY = "#27307f"

# panel: box (left, top, right, bottom) in pixels
PANELS = {
    1: dict(box=(45, 29, 321, 207), kind=0, title=TITLE_SC, ty=15, sy=23, xl=234, yl=13,
            leg=(55, 33, 108, 40), ov=OVERLAY_SC, ovx=244, ovy=42),
    2: dict(box=(47, 268, 318, 458), kind=1, title=TITLE_SC, ty=255, sy=262, xl=486, yl=13,
            leg=(56, 270, 107, 44), ov=OVERLAY_SC, ovx=244, ovy=281),
    3: dict(box=(44, 525, 313, 728), kind=2, title=TITLE_SC, ty=508, sy=517, xl=757, yl=14,
            leg=(54, 535, 109, 40), ov=OVERLAY_SC, ovx=240, ovy=541),
    4: dict(box=(386, 27, 650, 208), kind=0, title=TITLE_EQ, ty=10, sy=19, xl=234, yl=355,
            leg=(395, 32, 102, 37), ov=OVERLAY_EQ, ovx=562, ovy=44),
    5: dict(box=(383, 266, 650, 455), kind=1, title=TITLE_EQ, ty=250, sy=259, xl=485, yl=357,
            leg=(393, 272, 104, 40), ov=OVERLAY_EQ, ovx=560, ovy=282),
    6: dict(box=(390, 525, 650, 719), kind=2, title=TITLE_EQ, ty=510, sy=518, xl=748, yl=363,
            leg=(398, 532, 104, 40), ov=OVERLAY_EQ, ovx=562, ovy=542),
}
YRANGES = [[-1.44, 10.44], [-12.8, 62.8], [-24, 84]]
YMAJOR = [[0, 2, 4, 6, 8, 10], [0, 20, 40, 60], [-20, 0, 20, 40, 60, 80]]
YMINOR = [[-1, 1, 3, 5, 7, 9], [-10, 10, 30, 50], [-10, 10, 30, 50, 70]]
XRANGE = [2006.4, 2103.6]


def px(x):
    return x / W


def py(y):
    return 1 - y / H


fig = go.Figure()
annotations = []
shapes = []

for p, cfg in PANELS.items():
    sfx = "" if p == 1 else str(p)
    xa, ya = "x" + sfx, "y" + sfx
    means, los, his = series[p]
    # bands
    for i in range(3):
        fig.add_trace(go.Scatter(x=YEARS, y=los[i], mode="lines", line=dict(width=0),
                                 xaxis=xa, yaxis=ya, showlegend=False, hoverinfo="skip"))
        fig.add_trace(go.Scatter(x=YEARS, y=his[i], mode="lines", line=dict(width=0),
                                 fill="tonexty", fillcolor=FILL_COL[i],
                                 xaxis=xa, yaxis=ya, showlegend=False, hoverinfo="skip"))
    # mean lines
    for i in [0, 1, 2]:
        fig.add_trace(go.Scatter(x=YEARS, y=means[i], mode="lines",
                                 line=dict(color=LINE_COL[i], width=1.8),
                                 name=SCENARIOS[i], xaxis=xa, yaxis=ya, showlegend=False))

    L, T, R, B = cfg["box"]
    k = cfg["kind"]
    axis_common = dict(showline=True, mirror=True, linecolor="#555", linewidth=1,
                       ticks="outside", ticklen=4, tickcolor="#444", showgrid=False,
                       tickfont=dict(size=7.5, color="#222", family=FONT))
    fig.layout["xaxis" + sfx] = dict(
        domain=[px(L), px(R)], anchor=ya, range=XRANGE, zeroline=False,
        tickmode="array", tickvals=[2020, 2040, 2060, 2080, 2100],
        minor=dict(tickvals=list(range(2010, 2101, 5)), ticks="outside", ticklen=3, tickcolor="#444"),
        **axis_common)
    fig.layout["yaxis" + sfx] = dict(
        domain=[py(B), py(T)], anchor=xa, range=YRANGES[k],
        tickmode="array", tickvals=YMAJOR[k], tickangle=-90,
        minor=dict(tickvals=YMINOR[k], ticks="outside", ticklen=3, tickcolor="#444"),
        zeroline=True, zerolinecolor="#7a7a7a", zerolinewidth=1,
        **axis_common)

    cx = (L + R) / 2
    annotations.append(dict(x=px(cx), y=py(cfg["ty"]), xref="paper", yref="paper", text=cfg["title"],
                            showarrow=False, font=dict(size=9, family=FONT, color="#222"),
                            xanchor="center", yanchor="middle"))
    annotations.append(dict(x=px(cx), y=py(cfg["sy"]), xref="paper", yref="paper", text="<b>" + SUBTITLE + "</b>",
                            showarrow=False, font=dict(size=5, family=FONT, color="#222"),
                            xanchor="center", yanchor="middle"))
    annotations.append(dict(x=px(cx), y=py(cfg["xl"]), xref="paper", yref="paper", text=XLABEL,
                            showarrow=False, font=dict(size=8, family=FONT, color="#222"),
                            xanchor="center", yanchor="middle"))
    annotations.append(dict(x=px(cfg["yl"]), y=py((T + B) / 2), xref="paper", yref="paper",
                            text=YLABELS[k], textangle=-90, showarrow=False,
                            font=dict(size=8, family=FONT, color="#222"),
                            xanchor="center", yanchor="middle"))

    # legend box
    lx, ly, lw, lh = cfg["leg"]
    shapes.append(dict(type="rect", xref="paper", yref="paper", x0=px(lx), x1=px(lx + lw),
                       y0=py(ly + lh), y1=py(ly), line=dict(color="#555", width=1),
                       fillcolor="white", layer="above"))
    for i in range(3):
        yy = ly + lh * (0.27 + 0.235 * i)
        shapes.append(dict(type="line", xref="paper", yref="paper",
                           x0=px(lx + 0.07 * lw), x1=px(lx + 0.22 * lw), y0=py(yy), y1=py(yy),
                           line=dict(color=LINE_COL[i], width=1.6), layer="above"))
        annotations.append(dict(x=px(lx + 0.29 * lw), y=py(yy), xref="paper", yref="paper",
                                text=SCENARIOS[i], showarrow=False, xanchor="left", yanchor="middle",
                                font=dict(size=7.5, family=FONT, color="#222")))
        annotations.append(dict(x=px(lx + 0.975 * lw), y=py(yy), xref="paper", yref="paper",
                                text=N_MODELS[i], showarrow=False, xanchor="right", yanchor="middle",
                                font=dict(size=7.5, family=FONT, color="#222")))

    # overlay label
    annotations.append(dict(x=px(cfg["ovx"]), y=py(cfg["ovy"]), xref="paper", yref="paper",
                            text=cfg["ov"], showarrow=False, xanchor="center", yanchor="middle",
                            font=dict(size=26, family=FONT, color=NAVY)))

fig.update_layout(width=W, height=H, margin=dict(l=0, r=0, t=0, b=0), autosize=False,
                  paper_bgcolor="white", plot_bgcolor="white", showlegend=False,
                  annotations=annotations, shapes=shapes, font=dict(family=FONT))

fig.write_html("out.html", config={"displayModeBar": False, "staticPlot": True},
               post_script="document.body.style.margin='0';document.body.style.padding='0';"
                           "document.body.style.overflow='hidden';")
